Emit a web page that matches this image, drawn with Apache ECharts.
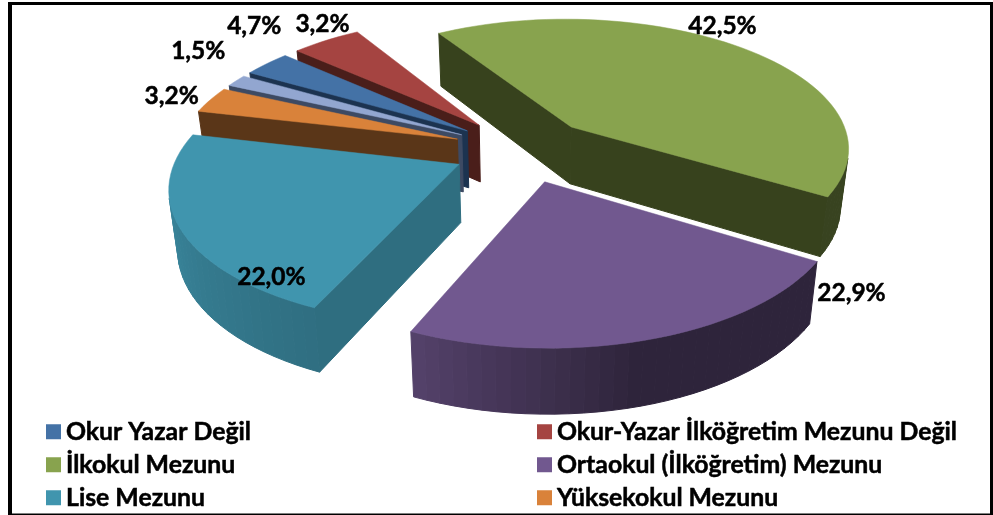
<!DOCTYPE html>
<html>
<head>
<meta charset="utf-8">
<style>html,body{margin:0;padding:0;background:#fff}#c{width:993px;height:515px}</style>
<script src="https://cdn.jsdelivr.net/npm/echarts@6/dist/echarts.min.js"></script>
</head>
<body>
<div id="c"></div>
<script>
// ---- data ----
const categories = ['Okur Yazar Değil','Okur-Yazar İlköğretim Mezunu Değil','İlkokul Mezunu','Ortaokul (İlköğretim) Mezunu','Lise Mezunu','Yüksekokul Mezunu','Üniversite Mezunu'];
// slice sizes as drawn: in the picture the blue wedge is the narrower and the red the wider, while their printed labels read the other way round
const values = [3.2,4.7,42.5,22.9,22.0,3.2,1.5];
const valueLabels = ['4,7%','3,2%','42,5%','22,9%','22,0%','3,2%','1,5%'];
// ---- styles ----
const topColors  = ['#4472a6','#a54441','#88a34e','#71588f','#4095ae','#d9823a','#92a6d0'];
const wallColors = ['#1c3350','#4a1e1a','#37421d','#2e2339','#2f6e80','#5a3618','#3d4a63'];
const paintOrder = [1,0,4,6,5,3,2];      // z rank per slice, back to front
const labelOffsets = [[-12.5,-38],[-3.5,-16],[-19,-22],[201,-46],[91,48],[-38.5,-4],[-38,-30]];
const legendSlots = [[46,0],[537,0],[46,1],[537,1],[46,2],[537,2]];
// ---- projection of the 3D pie ----
const cx=523, cy=149.5, A=280.5, G=130.4, K=0.151, BOTTOM=0.975, DEPTH=57.7, EXPLODE=0.25, FIRST=300;
const total = values.reduce((a,b)=>a+b,0);
const rad = d=>d*Math.PI/180;
function proj(X,Y,low){
  const w=1+K*Y, s=low?BOTTOM:1;
  return [cx+s*A*X/w, cy+(-s*G*Y+(low?DEPTH:0))/w];
}
function mix(hex,f){
  const n=parseInt(hex.slice(1),16);
  const c=[n>>16&255,n>>8&255,n&255].map(v=>Math.round(v*f));
  return 'rgb('+c.join(',')+')';
}
function rimFactor(t){
  const stops=[[0,.41],[165,.41],[203,.74],[282,.95],[360,.95]];
  for(let i=1;i<stops.length;i++) if(t<=stops[i][0]){
    const a=stops[i-1],b=stops[i];
    return a[1]+(b[1]-a[1])*(t-a[0])/(b[0]-a[0]);
  }
  return .95;
}
function area(p){let s=0;for(let i=0;i<p.length;i++){const a=p[i],b=p[(i+1)%p.length];s+=a[0]*b[1]-b[0]*a[1];}return s;}

function makeRender(idx){
  return function(params,api){
    const v=api.value(0);
    const before=values.slice(0,idx).reduce((a,b)=>a+b,0);
    const t0=FIRST+before/total*360, t1=t0+v/total*360, m=(t0+t1)/2;
    const ox=EXPLODE*Math.sin(rad(m)), oy=EXPLODE*Math.cos(rad(m));
    const rim=t=>[ox+Math.sin(rad(t)),oy+Math.cos(rad(t))];
    const steps=Math.max(2,Math.ceil((t1-t0)/2.5));
    const z=10+paintOrder[idx]*10;
    const kids=[];
    const wall=(a,b,color)=>{
      const q=[proj(a[0],a[1],0),proj(b[0],b[1],0),proj(b[0],b[1],1),proj(a[0],a[1],1)];
      if(area(q)<0) kids.push({type:'polygon',z2:z,shape:{points:q},style:{fill:color,stroke:color,lineWidth:1,lineJoin:'round'}});
    };
    wall([ox,oy],rim(t0),wallColors[idx]);
    wall(rim(t1),[ox,oy],wallColors[idx]);
    const topPts=[proj(ox,oy,0)];
    for(let i=0;i<=steps;i++){
      const t=t0+(t1-t0)*i/steps;
      topPts.push(proj(...rim(t),0));
      if(i<steps){
        const tn=t0+(t1-t0)*(i+1)/steps;
        wall(rim(t),rim(tn),mix(topColors[idx],rimFactor((((t+tn)/2)%360))));
      }
    }
    kids.push({type:'polygon',z2:z+1,shape:{points:topPts},style:{fill:topColors[idx],stroke:topColors[idx],lineWidth:.5}});
    const a=proj(...rim(m),0), off=labelOffsets[idx];
    kids.push({type:'text',z2:200,style:{text:valueLabels[idx],x:a[0]+off[0],y:a[1]+off[1],align:'center',verticalAlign:'middle',
      font:'700 24.5px Lato',fill:'#000',stroke:'#000',lineWidth:.5}});
    return {type:'group',children:kids};
  };
}

const frame=[[8,2,985,3],[8,2,4,513],[990,2,3,513],[8,513.6,985,1.4]];
const chart=echarts.init(document.getElementById('c'),null,{renderer:'canvas'});
chart.setOption({
  animation:false,
  backgroundColor:'#fff',
  legend:legendSlots.map((s,i)=>({
    data:[categories[i]],left:s[0],top:419+s[1]*33,padding:0,icon:'rect',itemWidth:15,itemHeight:15,
    selectedMode:false,textStyle:{fontFamily:'Lato',fontWeight:700,fontSize:24.8,color:'#000',textBorderColor:'#000',textBorderWidth:.5}
  })),
  graphic:frame.map(f=>({type:'rect',z:100,silent:true,shape:{x:f[0],y:f[1],width:f[2],height:f[3]},style:{fill:'#000'}})),
  series:categories.map((name,i)=>({
    type:'custom',name,coordinateSystem:'none',silent:true,clip:false,
    itemStyle:{color:topColors[i]},
    data:[[values[i]]],
    renderItem:makeRender(i)
  }))
});
</script>
</body>
</html>
